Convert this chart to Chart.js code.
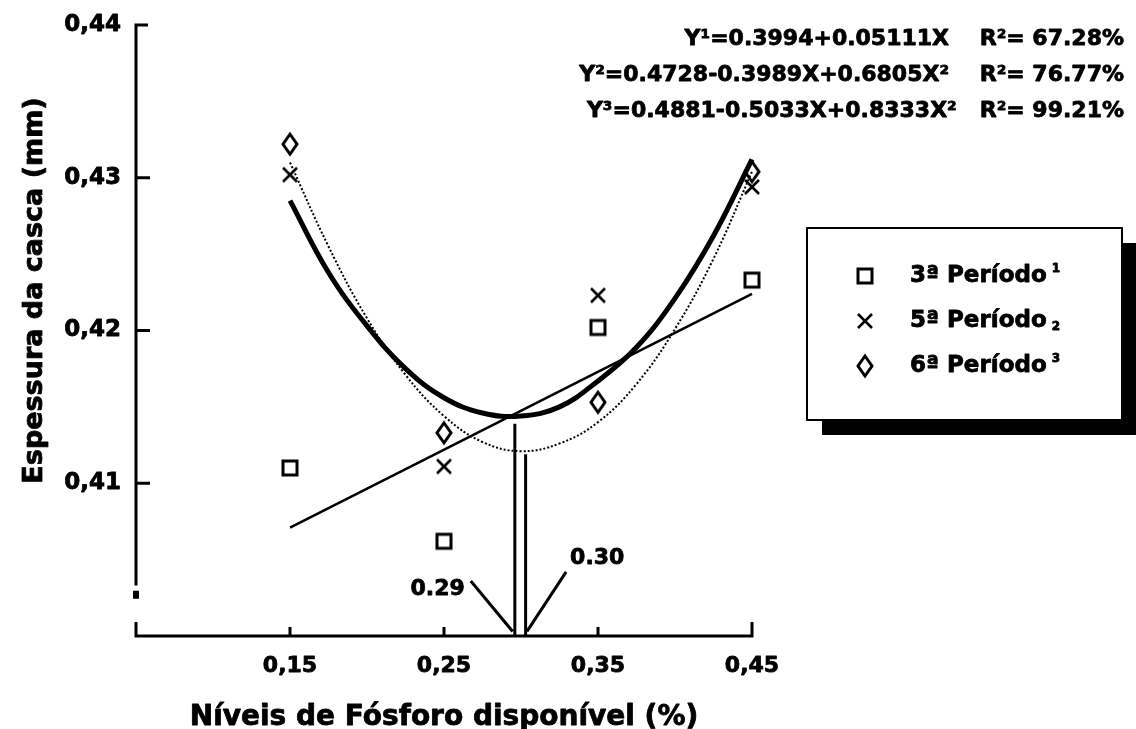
<!DOCTYPE html>
<html>
<head>
<meta charset="utf-8">
<title>Espessura da casca</title>
<script src="https://cdn.jsdelivr.net/npm/chart.js@4.4.0/dist/chart.umd.min.js"></script>
<style>
  html, body { margin: 0; padding: 0; background: #fff; }
  #wrap { width: 1136px; height: 729px; }
</style>
</head>
<body>
<div id="wrap"><canvas id="chart" width="1136" height="729"></canvas></div>
<script>
const levels = [0.15, 0.25, 0.35, 0.45];
const period3 = [0.4110, 0.4062, 0.4202, 0.4233];
const period5 = [0.4302, 0.4111, 0.4223, 0.4294];
const period6 = [0.4322, 0.4133, 0.4153, 0.4304];

// Fitted curves as drawn in the figure
const linX = [0.15, 0.45];
const lin3 = [0.4071, 0.4224];
const curveX = [0.15, 0.175, 0.20, 0.225, 0.25, 0.275, 0.30, 0.325, 0.35, 0.375, 0.40, 0.425, 0.45];
const curve5 = [0.4285, 0.4238, 0.4203, 0.4175, 0.4156, 0.4146, 0.4144, 0.4150, 0.4167, 0.4189, 0.4221, 0.4262, 0.4312];
const curve6 = [0.4310, 0.4255, 0.4208, 0.4171, 0.4144, 0.4127, 0.4121, 0.4126, 0.4140, 0.4165, 0.4201, 0.4247, 0.4304];

// Optimum markers (vertical drops and leader lines)
const optLabels = ['0.29', '0.30'];
const optLineX = [0.296, 0.303];
const optLineTop = [0.4139, 0.4119];
const leader29X = [0.2674, 0.2946];
const leader29Y = [0.4036, 0.4003];
const leader30X = [0.3293, 0.3039];
const leader30Y = [0.4042, 0.4003];

// Axis ticks
const xTicks = [0.15, 0.25, 0.35, 0.45];
const xTickLabels = ['0,15', '0,25', '0,35', '0,45'];
const yTicks = [0.41, 0.42, 0.43, 0.44];
const yTickLabels = ['0,41', '0,42', '0,43', '0,44'];

const legendLabels = ['3ª Período', '5ª Período', '6ª Período'];
const legendMarks = ['1', '2', '3'];
const equations = [
  'Y¹=0.3994+0.05111X    R²= 67.28%',
  'Y²=0.4728-0.3989X+0.6805X²    R²= 76.77%',
  'Y³=0.4881-0.5033X+0.8333X²   R²= 99.21%'
];

const FONT = '"DejaVu Sans", "Liberation Sans", sans-serif';

function toPoints(xs, ys) {
  return xs.map((x, i) => ({ x: x, y: ys[i] }));
}

// heavy text, like the scanned original
function heavyText(ctx, txt, x, y) {
  ctx.fillText(txt, x, y);
  ctx.strokeText(txt, x, y);
}

// marker glyphs drawn once on small canvases
function makeMarker(kind) {
  const c = document.createElement('canvas');
  const ctx = c.getContext('2d');
  ctx.strokeStyle = '#000';
  ctx.lineJoin = 'round';
  if (kind === 'square') {
    c.width = 20; c.height = 20;
    ctx.lineWidth = 3;
    ctx.strokeRect(3, 3, 14, 14);
  } else if (kind === 'cross') {
    c.width = 20; c.height = 20;
    ctx.lineWidth = 2.6;
    ctx.beginPath();
    ctx.moveTo(3, 3); ctx.lineTo(17, 17);
    ctx.moveTo(17, 3); ctx.lineTo(3, 17);
    ctx.stroke();
  } else {
    c.width = 20; c.height = 26;
    ctx.lineWidth = 3;
    ctx.beginPath();
    ctx.moveTo(10, 3); ctx.lineTo(17, 13); ctx.lineTo(10, 23); ctx.lineTo(3, 13);
    ctx.closePath();
    ctx.stroke();
  }
  return c;
}
const squareMark = makeMarker('square');
const crossMark = makeMarker('cross');
const diamondMark = makeMarker('diamond');

const frame = {
  id: 'frame',
  afterDraw(chart) {
    const ctx = chart.ctx;
    const xs = chart.scales.x;
    const ys = chart.scales.y;
    const px = v => xs.getPixelForValue(v);
    const py = v => ys.getPixelForValue(v);
    ctx.save();
    ctx.strokeStyle = '#000';
    ctx.fillStyle = '#000';
    ctx.lineCap = 'butt';

    // y axis, broken just above the x axis
    const ax = px(0.05);
    ctx.lineWidth = 3;
    ctx.beginPath();
    ctx.moveTo(ax + 12, py(0.44));
    ctx.lineTo(ax, py(0.44));
    ctx.lineTo(ax, py(0.4033));
    yTicks.slice(0, 3).forEach(t => {
      ctx.moveTo(ax, py(t));
      ctx.lineTo(ax + 14, py(t));
    });
    ctx.stroke();
    ctx.fillRect(ax - 3, py(0.4027) - 4, 6, 8);

    // x axis
    const ay = py(0.40);
    ctx.beginPath();
    ctx.moveTo(ax, ay - 14);
    ctx.lineTo(ax, ay);
    ctx.lineTo(px(0.45), ay);
    ctx.lineTo(px(0.45), ay - 14);
    xTicks.slice(0, 3).forEach(t => {
      ctx.moveTo(px(t), ay);
      ctx.lineTo(px(t), ay - 9);
    });
    ctx.stroke();

    // optimum drops and leaders
    ctx.beginPath();
    optLineX.forEach((x, i) => {
      ctx.moveTo(px(x), py(optLineTop[i]));
      ctx.lineTo(px(x), ay);
    });
    ctx.moveTo(px(leader29X[0]), py(leader29Y[0]));
    ctx.lineTo(px(leader29X[1]), py(leader29Y[1]));
    ctx.moveTo(px(leader30X[0]), py(leader30Y[0]));
    ctx.lineTo(px(leader30X[1]), py(leader30Y[1]));
    ctx.stroke();

    ctx.lineWidth = 0.8;
    ctx.lineJoin = 'round';

    // tick labels
    ctx.font = 'bold 23px ' + FONT;
    ctx.textAlign = 'right';
    ctx.textBaseline = 'middle';
    yTicks.forEach((t, i) => heavyText(ctx, yTickLabels[i], ax - 15, py(t)));
    ctx.font = 'bold 22px ' + FONT;
    ctx.textAlign = 'center';
    xTicks.forEach((t, i) => heavyText(ctx, xTickLabels[i], px(t), ay + 30));

    // axis titles
    ctx.font = 'bold 28px ' + FONT;
    ctx.textBaseline = 'alphabetic';
    heavyText(ctx, 'Níveis de Fósforo disponível (%)', px(0.25), 725);
    ctx.save();
    ctx.translate(42, py(0.42) - 40);
    ctx.rotate(-Math.PI / 2);
    ctx.font = 'bold 27px ' + FONT;
    heavyText(ctx, 'Espessura da casca (mm)', 0, 0);
    ctx.restore();

    // optimum labels
    ctx.font = 'bold 22px ' + FONT;
    ctx.textBaseline = 'middle';
    ctx.textAlign = 'right';
    heavyText(ctx, optLabels[0], px(leader29X[0]) - 6, py(leader29Y[0]) + 8);
    ctx.textAlign = 'left';
    heavyText(ctx, optLabels[1], px(leader30X[0]) + 4, py(leader30Y[0]) - 14);

    // regression equations
    ctx.font = 'bold 22px ' + FONT;
    ctx.textAlign = 'right';
    ctx.textBaseline = 'alphabetic';
    equations.forEach((eq, i) => heavyText(ctx, eq, 1124, 45 + i * 36));

    // legend box with heavy drop shadow
    const bx = 807, by = 228, bw = 315, bh = 192;
    ctx.fillRect(bx + 15, by + 15, bw, bh);
    ctx.fillStyle = '#fff';
    ctx.fillRect(bx, by, bw, bh);
    ctx.lineWidth = 2;
    ctx.strokeRect(bx, by, bw, bh);
    ctx.fillStyle = '#000';
    ctx.lineWidth = 0.8;
    const marks = [squareMark, crossMark, diamondMark];
    ctx.textAlign = 'left';
    ctx.textBaseline = 'middle';
    legendLabels.forEach((lab, i) => {
      const ry = by + 48 + i * 45;
      const m = marks[i];
      ctx.drawImage(m, 865 - m.width / 2, ry - m.height / 2);
      ctx.font = 'bold 23px ' + FONT;
      heavyText(ctx, lab, 910, ry);
      const w = ctx.measureText(lab).width;
      ctx.font = 'bold 12px ' + FONT;
      heavyText(ctx, legendMarks[i], 910 + w + 5, i === 1 ? ry + 6 : ry - 7);
    });
    ctx.restore();
  }
};

new Chart(document.getElementById('chart'), {
  type: 'scatter',
  data: {
    datasets: [
      {
        label: '3º Período fit',
        data: toPoints(linX, lin3),
        showLine: true,
        borderColor: '#000',
        borderWidth: 2.5,
        pointRadius: 0
      },
      {
        label: '5º Período fit',
        data: toPoints(curveX, curve5),
        showLine: true,
        borderColor: '#000',
        borderWidth: 5,
        tension: 0.4,
        pointRadius: 0
      },
      {
        label: '6º Período fit',
        data: toPoints(curveX, curve6),
        showLine: true,
        borderColor: '#000',
        borderWidth: 2,
        borderDash: [2, 2],
        tension: 0.4,
        pointRadius: 0
      },
      {
        label: '3ª Período',
        data: toPoints(levels, period3),
        pointStyle: squareMark,
        pointRadius: 10
      },
      {
        label: '5ª Período',
        data: toPoints(levels, period5),
        pointStyle: crossMark,
        pointRadius: 10
      },
      {
        label: '6ª Período',
        data: toPoints(levels, period6),
        pointStyle: diamondMark,
        pointRadius: 10
      }
    ]
  },
  options: {
    responsive: false,
    animation: false,
    clip: false,
    layout: { padding: { left: 136, right: 384, top: 25, bottom: 93 } },
    plugins: {
      legend: { display: false },
      tooltip: { enabled: false }
    },
    scales: {
      x: { type: 'linear', min: 0.05, max: 0.45, display: false },
      y: { type: 'linear', min: 0.40, max: 0.44, display: false }
    }
  },
  plugins: [frame]
});
</script>
</body>
</html>
